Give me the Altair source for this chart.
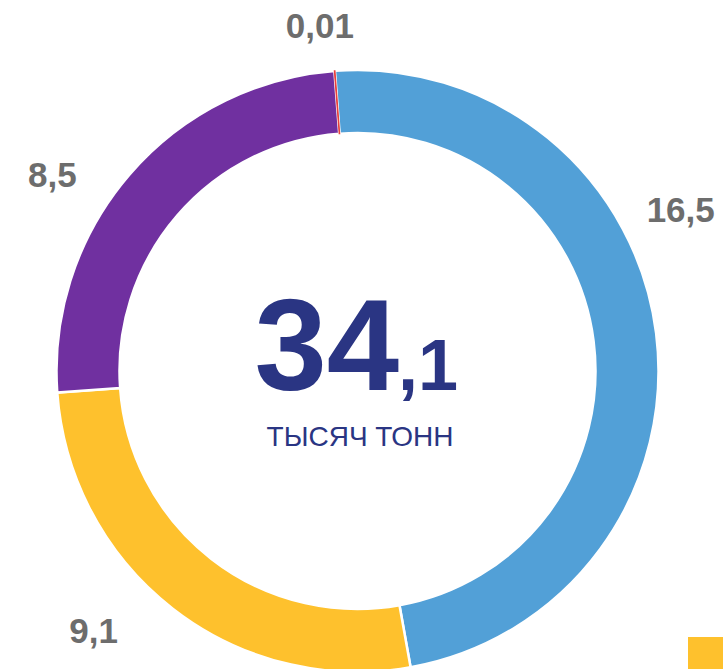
import math
import altair as alt
import pandas as pd

# ---- data -----------------------------------------------------------------
categories = ["Категория 1", "Категория 2", "Категория 3", "Категория 4"]
values = [16.5, 9.1, 8.5, 0.01]
labels = ["16,5", "9,1", "8,5", "0,01"]
colors = ["#52a0d7", "#fec12d", "#7030a0", "#e8413c"]
total_int = ["34"]
total_dec = [",1"]
unit_text = ["ТЫСЯЧ ТОНН"]

df = pd.DataFrame({
    "cat": categories,
    "value": values,
    "label": labels,
    "idx": list(range(len(values))),
})
total = sum(values)

# ---- geometry / style -----------------------------------------------------
CX, CY = 357.5, 371
R_OUT, R_IN = 301, 238
start = 2 * math.pi - 4.3 * math.pi / 180
theta_scale = alt.Scale(domain=[0, total], range=[start, start + 2 * math.pi],
                        nice=False, zero=True)
FONT = "Liberation Sans"
LABEL_GRAY = "#6d6d6d"
NAVY = "#2a3583"

base = alt.Chart(df)

arcs = base.mark_arc(innerRadius=R_IN, outerRadius=R_OUT).encode(
    theta=alt.Theta("value:Q", stack=True, scale=theta_scale),
    color=alt.Color(
        "cat:N",
        scale=alt.Scale(domain=categories, range=colors),
        legend=alt.Legend(
            orient="none", legendX=688, legendY=637,
            values=[categories[1]], title=None,
            symbolType="square", symbolSize=1225,
            symbolStrokeWidth=0, symbolOpacity=1,
            padding=0, labelFontSize=20, labelFont=FONT,
            labelExpr="''",
        ),
    ),
    order=alt.Order("idx:Q"),
    stroke=alt.condition("datum.value < 0.1", alt.value("#e8413c"), alt.value("white")),
    strokeWidth=alt.condition("datum.value < 0.1", alt.value(1.2), alt.value(2.5)),
    x=alt.value(CX),
    y=alt.value(CY),
)


def value_label(i, dx, dy):
    return (
        base.transform_stack(stack="value", groupby=[], as_=["v0", "v1"],
                             sort=[alt.SortField("idx", order="ascending")])
        .transform_calculate(mid="(datum.v0 + datum.v1) / 2")
        .transform_filter(f"datum.idx == {i}")
        .mark_text(font=FONT, fontSize=35, fontWeight="bold", color=LABEL_GRAY,
                   align="center", baseline="middle", dx=dx, dy=dy)
        .encode(
            theta=alt.Theta("mid:Q", stack=None, scale=theta_scale),
            radius=alt.value(350),
            text="label:N",
            x=alt.value(CX),
            y=alt.value(CY),
        )
    )


lbl_blue = value_label(0, -24, -116)
lbl_yellow = value_label(1, -49, -15)
lbl_purple = value_label(2, -40, 33)
lbl_red = value_label(3, -11, 5)

big = alt.Chart(pd.DataFrame({"t": total_int})).mark_text(
    font=FONT, fontSize=130, fontWeight="bold", color=NAVY,
    align="right", baseline="alphabetic",
).encode(text="t:N", x=alt.value(399), y=alt.value(390))

dec = alt.Chart(pd.DataFrame({"t": total_dec})).mark_text(
    font=FONT, fontSize=72, fontWeight="bold", color=NAVY,
    align="left", baseline="alphabetic",
).encode(text="t:N", x=alt.value(398), y=alt.value(390))

unit = alt.Chart(pd.DataFrame({"t": unit_text})).mark_text(
    font=FONT, fontSize=28, color=NAVY,
    align="center", baseline="alphabetic",
).encode(text="t:N", x=alt.value(360), y=alt.value(446))

chart = (
    alt.layer(arcs, lbl_blue, lbl_yellow, lbl_purple, lbl_red, big, dec, unit)
    .properties(width=723, height=669, autosize="none", padding=0,
                background="white")
    .configure_view(strokeWidth=0)
)

chart.save("out.html", embed_options={"renderer": "svg", "actions": False})
